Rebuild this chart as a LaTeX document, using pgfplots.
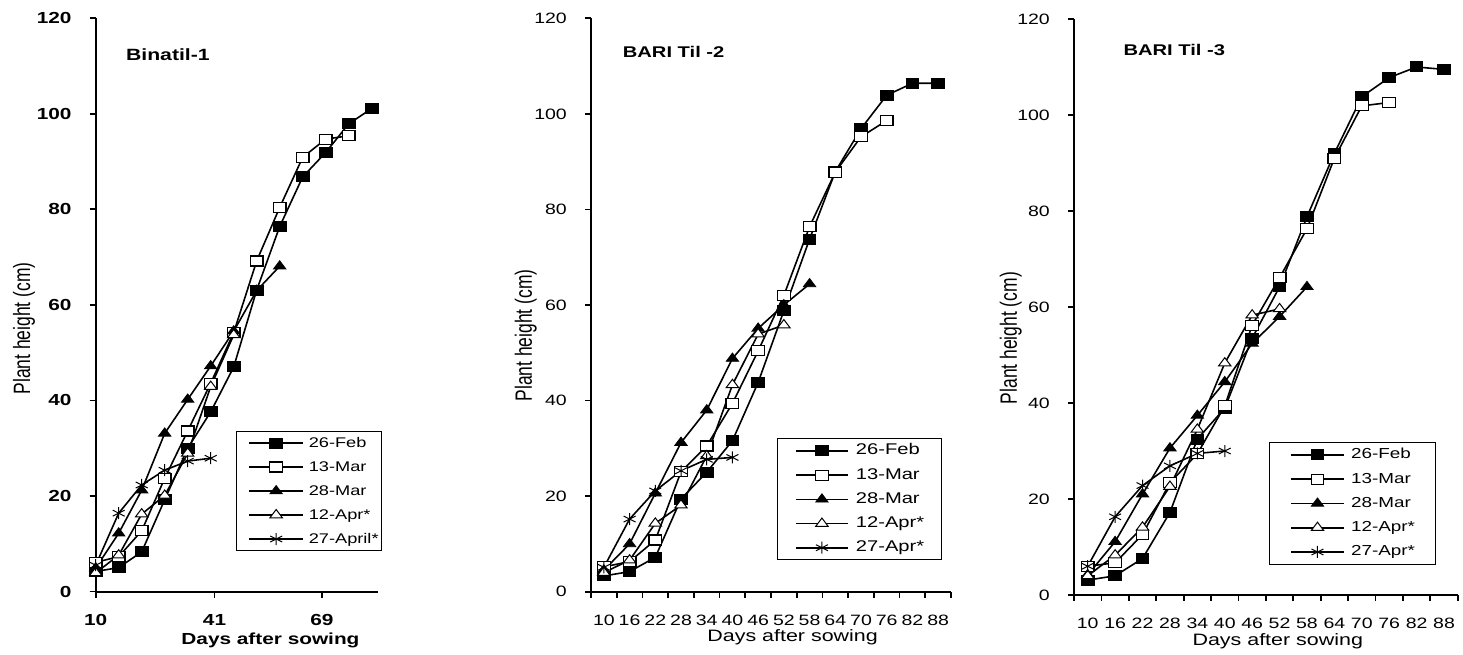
\documentclass[border=0pt]{standalone}
\usepackage{fontspec}
\setmainfont{Liberation Sans}[FakeStretch=1.3]
\newfontfamily\yfont{Liberation Sans}[FakeStretch=0.74]
\usepackage{pgfplots}
\pgfplotsset{compat=1.18}
\newcommand\fs[1]{\fontsize{#1pt}{#1pt}\selectfont}
\pgfplotsset{
  common/.style={scale only axis, clip=false,
    axis x line*=bottom, axis y line*=left,
    axis line style={line width=2pt,-},
    ymin=0, ymax=120, ytick={0,20,...,120},
    tick align=outside, major tick length=6pt,
    tick style={line width=1.8pt,black},
    /pgf/number format/assume math mode=true,
    tick label style={inner sep=0pt},
    xticklabel style={yshift=-17pt},
    yticklabel style={xshift=-18pt},
  },
  sqf/.style={black, line width=1.6pt, mark=square*, mark size=5pt,
    mark options={solid, fill=black, line width=1pt, xscale=1.27}},
  sqo/.style={black, line width=1.6pt, mark=square*, mark size=5pt,
    mark options={solid, fill=white, draw=black, line width=1.2pt, xscale=1.27}},
  trf/.style={black, line width=1.6pt, mark=triangle*, mark size=5.5pt,
    mark options={solid, fill=black, line width=0.8pt, xscale=1.3}},
  tro/.style={black, line width=1.6pt, mark=triangle*, mark size=5.5pt,
    mark options={solid, fill=white, draw=black, line width=1pt, xscale=1.3}},
  ast/.style={black, line width=1.6pt, mark=asterisk, mark size=6pt,
    mark options={solid, line width=1pt, xscale=1.15}},
}
\begin{document}
\begin{tikzpicture}
\useasboundingbox (0,0) rectangle (1463pt,654pt);
% ---------------- Panel 1
\begin{axis}[common,
  at={(95.7pt,62.5pt)}, anchor=south west, width=282.3pt, height=573.2pt,
  xmin=10, xmax=83.65, xtick={10,41,69},
  tick label style={font=\bfseries\fs{16}},
  xlabel={Days after sowing}, ylabel={Plant height (cm)},
  every axis x label/.style={at={(axis description cs:0.619,-0.0933)}, anchor=base, inner sep=0pt, font=\bfseries\fs{16}},
  every axis y label/.style={at={(axis description cs:-0.2327,0.459)}, rotate=90, anchor=base, inner sep=0pt, font=\yfont\fs{23.6}},
  legend image code/.code={\draw[mark repeat=2,mark phase=2,#1] plot coordinates {(0pt,0pt) (26.85pt,0pt) (53.7pt,0pt)};},
  legend style={at={(axis description cs:0.496,0.280)}, anchor=north west, draw=black, line width=1pt,
    inner xsep=12.3pt, inner ysep=4.5pt, row sep=10pt, column sep=5pt,
    nodes={inner sep=0pt, text height=11pt, text depth=3pt, font=\fs{14}, text width=60pt, align=left}, cells={anchor=west}},
]
\addplot[sqf] coordinates {(10,4.2)(16,5.0)(22,8.3)(28,19.2)(34,30.0)(40,37.6)(46,47.0)(52,63.1)(58,76.4)(64,86.8)(70,91.9)(76,97.9)(82,101.1)};
\addplot[sqo] coordinates {(10,6.1)(16,7.3)(22,12.7)(28,23.7)(34,33.6)(40,43.6)(46,54.2)(52,69.2)(58,80.4)(64,90.9)(70,94.7)(76,95.4)};
\addplot[trf] coordinates {(10,4.9)(16,12.2)(22,21.2)(28,33.1)(34,40.2)(40,47.2)(46,54.5)(52,63.0)(58,68.1)};
\addplot[tro] coordinates {(10,3.9)(16,7.6)(22,16.2)(28,20.1)(34,28.9)(40,42.9)(46,53.7)};
\addplot[ast] coordinates {(10,5.5)(16,16.4)(22,22.3)(28,25.4)(34,27.3)(40,27.9)};
\legend{\mbox{26-Feb},\mbox{13-Mar},\mbox{28-Mar},\mbox{12-Apr*},\mbox{27-April*}}
\node[anchor=base west, inner sep=0pt, font=\bfseries\fs{16.3}] at (axis description cs:0.107,0.927) {Binatil-1};
\end{axis}
% ---------------- Panel 2
\begin{axis}[common,
  at={(591pt,62.3pt)}, anchor=south west, width=360pt, height=573.4pt,
  xmin=-0.5, xmax=13.5, xtick={-0.5,0.5,...,13.5}, xticklabels={},
  extra x ticks={0,1,...,13},
  extra x tick labels={10,16,22,28,34,40,46,52,58,64,70,76,82,88},
  extra x tick style={tick style={draw=none}},
  tick label style={font=\fs{15}},
  xlabel={Days after sowing}, ylabel={Plant height (cm)},
  every axis x label/.style={at={(axis description cs:0.560,-0.0872)}, anchor=base, inner sep=0pt, font=\fs{16.5}},
  every axis y label/.style={at={(axis description cs:-0.164,0.447)}, rotate=90, anchor=base, inner sep=0pt, font=\yfont\fs{23.6}},
  legend image code/.code={\draw[mark repeat=2,mark phase=2,#1] plot coordinates {(0pt,0pt) (25.85pt,0pt) (51.7pt,0pt)};},
  legend style={at={(axis description cs:0.518,0.2675)}, anchor=north west, draw=black, line width=1pt,
    inner xsep=17.3pt, inner ysep=5.1pt, row sep=10.2pt, column sep=7.3pt,
    nodes={inner sep=0pt, text height=11pt, text depth=3pt, font=\fs{15.5}}, cells={anchor=west}},
]
\addplot[sqf] coordinates {(0,3.3)(1,4.2)(2,7.2)(3,19.4)(4,25.0)(5,31.6)(6,43.8)(7,58.8)(8,73.8)(9,87.9)(10,96.9)(11,103.9)(12,106.4)(13,106.4)};
\addplot[sqo] coordinates {(0,5.2)(1,6.3)(2,10.8)(3,25.1)(4,30.5)(5,39.4)(6,50.4)(7,62.0)(8,76.4)(9,87.8)(10,95.2)(11,98.6)};
\addplot[trf] coordinates {(0,4.5)(1,10.0)(2,20.6)(3,31.2)(4,38.0)(5,48.8)(6,55.1)(7,60.0)(8,64.4)};
\addplot[tro] coordinates {(0,4.0)(1,6.6)(2,14.3)(3,18.1)(4,28.4)(5,43.3)(6,53.9)(7,55.8)};
\addplot[ast] coordinates {(0,5.1)(1,15.2)(2,21.1)(3,25.3)(4,27.7)(5,28.1)};
\legend{26-Feb,13-Mar,28-Mar,12-Apr*,27-Apr*}
\node[anchor=base west, inner sep=0pt, font=\bfseries\fs{15.5}] at (axis description cs:0.088,0.932) {BARI Til -2};
\end{axis}
% ---------------- Panel 3
\begin{axis}[common,
  at={(1074pt,59pt)}, anchor=south west, width=383.7pt, height=576pt,
  xmin=-0.5, xmax=13.5, xtick={-0.5,0.5,...,13.5}, xticklabels={},
  extra x ticks={0,1,...,13},
  extra x tick labels={10,16,22,28,34,40,46,52,58,64,70,76,82,88},
  extra x tick style={tick style={draw=none}},
  tick label style={font=\fs{15}},
  xlabel={Days after sowing}, ylabel={Plant height (cm)},
  every axis x label/.style={at={(axis description cs:0.531,-0.0885)}, anchor=base, inner sep=0pt, font=\fs{16.5}},
  every axis y label/.style={at={(axis description cs:-0.1486,0.446)}, rotate=90, anchor=base, inner sep=0pt, font=\yfont\fs{23.6}},
  legend image code/.code={\draw[mark repeat=2,mark phase=2,#1] plot coordinates {(0pt,0pt) (26.15pt,0pt) (52.3pt,0pt)};},
  legend style={at={(axis description cs:0.509,0.265)}, anchor=north west, draw=black, line width=1pt,
    inner xsep=20.7pt, inner ysep=5.1pt, row sep=10.25pt, column sep=6.7pt,
    nodes={inner sep=0pt, text height=11pt, text depth=3pt, font=\fs{14.5}}, cells={anchor=west}},
]
\addplot[sqf] coordinates {(0,3.1)(1,4.0)(2,7.6)(3,17.2)(4,32.5)(5,38.9)(6,53.5)(7,64.2)(8,78.8)(9,92.0)(10,103.8)(11,107.8)(12,110.0)(13,109.5)};
\addplot[sqo] coordinates {(0,6.0)(1,6.7)(2,12.6)(3,23.4)(4,29.4)(5,39.4)(6,56.2)(7,66.1)(8,76.3)(9,91.0)(10,101.9)(11,102.6)};
\addplot[trf] coordinates {(0,4.2)(1,11.1)(2,21.0)(3,30.6)(4,37.4)(5,44.4)(6,52.4)(7,58.0)(8,64.2)};
\addplot[tro] coordinates {(0,4.0)(1,8.3)(2,14.1)(3,22.6)(4,34.5)(5,48.3)(6,58.3)(7,59.6)};
\addplot[ast] coordinates {(0,6.0)(1,16.3)(2,22.8)(3,26.9)(4,29.5)(5,30.0)};
\legend{26-Feb,13-Mar,28-Mar,12-Apr*,27-Apr*}
\node[anchor=base west, inner sep=0pt, font=\bfseries\fs{15.5}] at (axis description cs:0.1285,0.936) {BARI Til -3};
\end{axis}
\end{tikzpicture}
\end{document}
